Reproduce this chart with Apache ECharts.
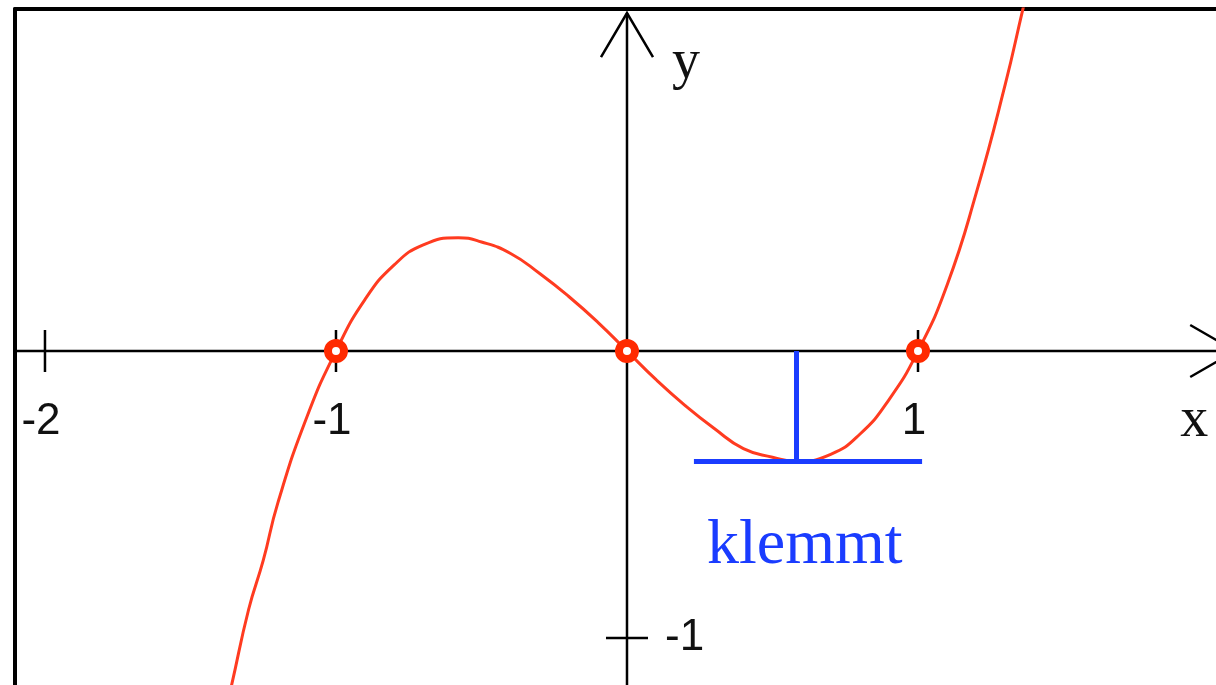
<!DOCTYPE html>
<html>
<head>
<meta charset="utf-8">
<title>klemmt</title>
<script src="https://cdn.jsdelivr.net/npm/echarts@6/dist/echarts.min.js"></script>
<style>
  html, body { margin: 0; padding: 0; background: #fff; }
  #chart { width: 1216px; height: 685px; }
</style>
</head>
<body>
<div id="chart"></div>
<script>
// curve points
const curveX = [-1.4, -1.36, -1.3, -1.25, -1.2, -1.1, -1.0, -0.9, -0.8, -0.7, -0.58, -0.5, -0.4, -0.3, -0.2, -0.1, 0,
  0.1, 0.2, 0.3, 0.4, 0.5, 0.58, 0.7, 0.8, 0.9, 1.0, 1.1, 1.2, 1.3, 1.36, 1.4]
const curveY = [-1.34, -1.17, -0.9, -0.73, -0.53, -0.23, 0, 0.18, 0.3, 0.37, 0.395, 0.38, 0.34, 0.27, 0.19, 0.1, 0,
  -0.1, -0.19, -0.27, -0.34, -0.37, -0.385, -0.36, -0.29, -0.17, 0, 0.23, 0.55, 0.93, 1.19, 1.36]
const rootX = [-1, 0, 1]
const xTicks = [-2, -1, 1]
const xTickLabels = ['-2', '-1', '1']
const yTicks = [-1]
const yTickLabels = ['-1']
const xRange = [-2.103, 2.024]
const yRange = [-1.164, 1.192]
const xArrowTip = 2.09
const yArrowTip = 1.178
const clampX = [0.23, 1.014]
const clampY = -0.383
const stemX = 0.58
const clampText = 'klemmt'

const chart = echarts.init(document.getElementById('chart'))

const black = '#000'
const sans = '"Liberation Sans", Arial, sans-serif'
const serif = '"Liberation Serif", "Times New Roman", serif'

// axis cross, arrows, ticks and texts
function renderAxes(params, api) {
  const children = []
  const line = (a, b, w) => ({
    type: 'line',
    shape: { x1: a[0], y1: a[1], x2: b[0], y2: b[1] },
    style: { stroke: black, lineWidth: w || 2.5 }
  })
  const xl = api.coord([xRange[0], 0])
  const xt = api.coord([xArrowTip, 0])
  const yb = api.coord([0, yRange[0]])
  const yt = api.coord([0, yArrowTip])

  children.push(line(xl, xt))
  children.push(line(yb, yt))
  // open arrow heads
  children.push({
    type: 'polyline',
    shape: { points: [[xt[0] - 45, xt[1] - 26], xt, [xt[0] - 45, xt[1] + 26]] },
    style: { stroke: black, lineWidth: 2.5, fill: null }
  })
  children.push({
    type: 'polyline',
    shape: { points: [[yt[0] - 26, yt[1] + 44], yt, [yt[0] + 26, yt[1] + 44]] },
    style: { stroke: black, lineWidth: 2.5, fill: null }
  })

  xTicks.forEach((v, i) => {
    const p = api.coord([v, 0])
    children.push(line([p[0], p[1] - 21], [p[0], p[1] + 21]))
    children.push({
      type: 'text',
      x: p[0] - 4, y: p[1] + 71,
      style: { text: xTickLabels[i], font: '44px ' + sans, fill: '#111', align: 'center', verticalAlign: 'middle' }
    })
  })
  yTicks.forEach((v, i) => {
    const p = api.coord([0, v])
    children.push(line([p[0] - 21, p[1]], [p[0] + 21, p[1]]))
    children.push({
      type: 'text',
      x: p[0] + 38, y: p[1],
      style: { text: yTickLabels[i], font: '44px ' + sans, fill: '#111', align: 'left', verticalAlign: 'middle' }
    })
  })

  children.push({
    type: 'text',
    x: xt[0] - 41, y: xt[1] + 42,
    style: { text: 'x', font: '56px ' + serif, fill: '#111', align: 'center', verticalAlign: 'alphabetic' }
  })
  children.push({
    type: 'text',
    x: yt[0] + 59, y: yt[1] + 22,
    style: { text: 'y', font: '56px ' + serif, fill: '#111', align: 'center', verticalAlign: 'alphabetic' }
  })

  const c = api.coord([stemX, clampY])
  children.push({
    type: 'text',
    x: c[0] + 9, y: c[1] + 53,
    style: { text: clampText, font: '64px ' + serif, fill: '#1a3cff', align: 'center', verticalAlign: 'alphabetic' }
  })
  return { type: 'group', children: children }
}

chart.setOption({
  animation: false,
  grid: { left: 15, right: 0, top: 9, bottom: 0, containLabel: false },
  xAxis: {
    type: 'value',
    position: 'top',
    min: xRange[0],
    max: xRange[1],
    axisLine: { show: true, onZero: false, lineStyle: { color: '#000', width: 4 } },
    axisTick: { show: false },
    axisLabel: { show: false },
    splitLine: { show: false }
  },
  yAxis: {
    type: 'value',
    position: 'left',
    min: yRange[0],
    max: yRange[1],
    axisLine: { show: true, onZero: false, lineStyle: { color: '#000', width: 4 } },
    axisTick: { show: false },
    axisLabel: { show: false },
    splitLine: { show: false }
  },
  series: [
    {
      type: 'custom',
      renderItem: renderAxes,
      data: [[0, 0]],
      z: 1,
      silent: true
    },
    {
      type: 'line',
      data: curveX.map((x, i) => [x, curveY[i]]),
      smooth: true,
      showSymbol: false,
      lineStyle: { color: '#ff3b20', width: 3 },
      z: 2
    },
    {
      type: 'lines',
      coordinateSystem: 'cartesian2d',
      data: [
        { coords: [[clampX[0], clampY], [clampX[1], clampY]] },
        { coords: [[stemX, 0], [stemX, clampY]] }
      ],
      lineStyle: { color: '#1a3cff', width: 5, opacity: 1 },
      z: 3
    },
    {
      type: 'scatter',
      data: rootX.map(x => [x, 0]),
      symbol: 'circle',
      symbolSize: 16,
      itemStyle: { color: '#fff', borderColor: '#ff2a00', borderWidth: 8, opacity: 1 },
      z: 4
    }
  ]
})
</script>
</body>
</html>
